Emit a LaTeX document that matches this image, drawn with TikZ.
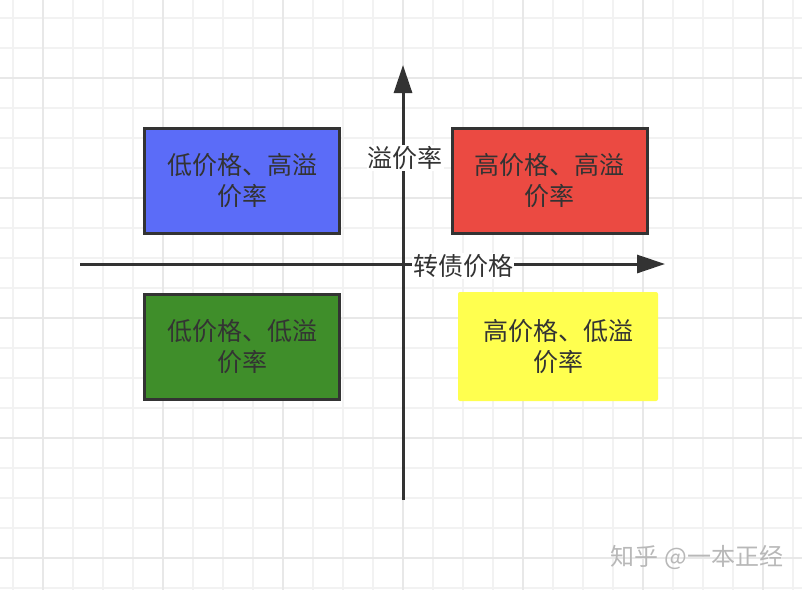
\documentclass[tikz,border=0pt]{standalone}
\usepackage{fontspec}
\setmainfont{Noto Sans CJK SC}
\usetikzlibrary{arrows.meta}

\definecolor{gridminor}{HTML}{F2F2F2}
\definecolor{gridmajor}{HTML}{E8E8E8}
\definecolor{inkgray}{HTML}{333333}
\definecolor{quadblue}{HTML}{5B6CF8}
\definecolor{quadred}{HTML}{EB4A42}
\definecolor{quadgreen}{HTML}{3F8E2A}
\definecolor{quadyellow}{HTML}{FFFF4F}

\tikzstyle{quad}=[line width=3pt,minimum width=195pt,minimum height=105pt,inner sep=0pt,align=center,text=inkgray,font=\fontsize{25}{31}\selectfont]
\tikzstyle{bluebox}=[quad,draw=inkgray,fill=quadblue]
\tikzstyle{redbox}=[quad,draw=inkgray,fill=quadred]
\tikzstyle{greenbox}=[quad,draw=inkgray,fill=quadgreen]
\tikzstyle{yellowbox}=[quad,fill=quadyellow,minimum width=200pt,minimum height=109pt,rounded corners=2pt]
\tikzstyle{axis}=[draw=inkgray,line width=3pt,-{Triangle[length=28pt,width=18pt]}]
\tikzstyle{axislabel}=[fill=white,inner sep=1pt,text=inkgray,font=\fontsize{25}{30}\selectfont]
\newcommand{\pxscale}{1pt}

\begin{document}
\begin{tikzpicture}[x=\pxscale, y=-\pxscale]
    \useasboundingbox (0,0) rectangle (802,590);
    % First we draw the grid
    \foreach \x in {13,43,...,793}
        \draw[gridminor,line width=1.5pt] (\x,0) -- (\x,590);
    \foreach \y in {18,48,...,588}
        \draw[gridminor,line width=1.5pt] (0,\y) -- (802,\y);
    \foreach \x in {43,163,...,763}
        \draw[gridmajor,line width=1.5pt] (\x,0) -- (\x,590);
    \foreach \y in {78,198,...,558}
        \draw[gridmajor,line width=1.5pt] (0,\y) -- (802,\y);
    % Axes and their labels
    \coordinate (xstart) at (80,264);
    \coordinate (xend) at (665,264);
    \coordinate (ystart) at (403,500);
    \coordinate (yend) at (403,65);
    \path[axis] (xstart) -- (xend);
    \path[axis] (ystart) -- (yend);
    \node[axislabel] (ylabel) at (405,158) {溢价率};
    \node[axislabel] (xlabel) at (463,266) {转债价格};
    % Then the four quadrants
    \foreach \pos/\name/\sty/\txt in {{(242,181)/lowhigh/bluebox/{低价格、高溢\\价率}},
        {(549.5,180.5)/highhigh/redbox/{高价格、高溢\\价率}},
        {(242,346.5)/lowlow/greenbox/{低价格、低溢\\价率}},
        {(558,346.5)/highlow/yellowbox/{高价格、低溢\\价率}}}
        \node[\sty] (\name) at \pos {\txt};
    % Watermark
    \node[text=black!28,font=\fontsize{24}{28}\selectfont] (mark) at (697,557) {知乎 @一本正经};
\end{tikzpicture}
\end{document}
